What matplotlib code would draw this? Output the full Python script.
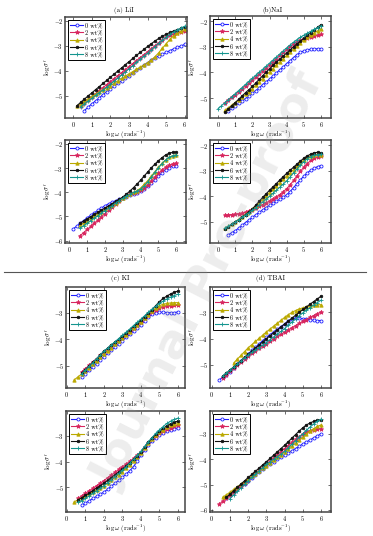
import matplotlib
matplotlib.use("Agg")
import matplotlib.pyplot as plt
from matplotlib.lines import Line2D

plt.rcParams.update({
    'font.family': 'serif',
    'font.serif': ['cmr10', 'DejaVu Serif'],
    'mathtext.fontset': 'cm',
    'axes.formatter.use_mathtext': True,
})

# ---------------- data ----------------
LOGW = [0.0, 0.2, 0.4, 0.6, 0.8, 1.0, 1.2, 1.4, 1.6, 1.8, 2.0, 2.2, 2.4, 2.6, 2.8, 3.0,
        3.2, 3.4, 3.6, 3.8, 4.0, 4.2, 4.4, 4.6, 4.8, 5.0, 5.2, 5.4, 5.6, 5.8, 6.0]
LABELS = ['0 wt%', '2 wt%', '4 wt%', '6 wt%', '8 wt%']

# (a) LiI - upper
LII_A = [
    [-5.60, -5.46, -5.33, -5.21, -5.09, -4.96, -4.84, -4.72, -4.62, -4.51, -4.41, -4.30, -4.20, -4.10,
     -3.99, -3.89, -3.78, -3.68, -3.58, -3.49, -3.41, -3.34, -3.27, -3.20, -3.13, -3.07, -3.01, -2.95],
    [-5.40, -5.28, -5.16, -5.04, -4.92, -4.80, -4.68, -4.56, -4.44, -4.32, -4.20, -4.08, -3.96, -3.84,
     -3.72, -3.60, -3.48, -3.36, -3.24, -3.12, -3.00, -2.88, -2.77, -2.67, -2.59, -2.53, -2.49, -2.46, -2.43],
    [-5.43, -5.33, -5.23, -5.13, -5.03, -4.94, -4.85, -4.76, -4.68, -4.60, -4.51, -4.41, -4.31, -4.22,
     -4.13, -4.04, -3.95, -3.86, -3.77, -3.68, -3.57, -3.44, -3.28, -3.10, -2.92, -2.75, -2.60, -2.49, -2.41, -2.35],
    [-5.40, -5.27, -5.14, -5.01, -4.89, -4.76, -4.64, -4.51, -4.39, -4.26, -4.14, -4.01, -3.89, -3.76,
     -3.64, -3.51, -3.39, -3.27, -3.15, -3.03, -2.92, -2.81, -2.71, -2.62, -2.54, -2.47, -2.41, -2.36, -2.31, -2.27],
    [-5.45, -5.33, -5.22, -5.11, -4.99, -4.88, -4.77, -4.66, -4.55, -4.42, -4.30, -4.17, -4.05, -3.92,
     -3.80, -3.67, -3.55, -3.42, -3.30, -3.17, -3.04, -2.91, -2.78, -2.66, -2.55, -2.45, -2.37, -2.29, -2.22],
]
# (a) LiI - lower
LII_B = [
    [-5.52, -5.41, -5.29, -5.17, -5.06, -4.95, -4.85, -4.75, -4.65, -4.56, -4.48, -4.41, -4.35, -4.30,
     -4.25, -4.19, -4.13, -4.07, -4.02, -3.96, -3.86, -3.75, -3.62, -3.48, -3.34, -3.20, -3.07, -2.98, -2.92, -2.90],
    [-5.80, -5.67, -5.54, -5.41, -5.28, -5.15, -5.01, -4.88, -4.75, -4.62, -4.49, -4.36, -4.23, -4.14,
     -4.08, -4.03, -3.98, -3.92, -3.82, -3.69, -3.54, -3.38, -3.22, -3.08, -2.97, -2.89, -2.83, -2.80],
    [-5.36, -5.27, -5.17, -5.08, -4.99, -4.90, -4.80, -4.71, -4.62, -4.52, -4.43, -4.34, -4.25, -4.17,
     -4.09, -4.01, -3.93, -3.83, -3.68, -3.52, -3.34, -3.15, -2.97, -2.81, -2.67, -2.56, -2.49, -2.45],
    [-5.28, -5.19, -5.10, -5.01, -4.92, -4.83, -4.74, -4.65, -4.56, -4.47, -4.38, -4.29, -4.20, -4.08,
     -3.95, -3.81, -3.66, -3.50, -3.33, -3.16, -2.99, -2.84, -2.70, -2.57, -2.46, -2.39, -2.35, -2.34],
    [-5.48, -5.38, -5.28, -5.17, -5.07, -4.97, -4.86, -4.76, -4.66, -4.56, -4.45, -4.35, -4.25, -4.16,
     -4.08, -4.01, -3.95, -3.87, -3.74, -3.57, -3.38, -3.18, -2.99, -2.82, -2.67, -2.56, -2.49, -2.46],
]
# (b) NaI - upper
NAI_A = [
    [-5.50, -5.40, -5.31, -5.21, -5.12, -5.02, -4.92, -4.82, -4.71, -4.60, -4.48, -4.37, -4.26, -4.14,
     -4.02, -3.90, -3.78, -3.66, -3.54, -3.42, -3.31, -3.22, -3.16, -3.12, -3.10, -3.09, -3.08, -3.07],
    [-5.20, -5.09, -4.98, -4.87, -4.76, -4.64, -4.53, -4.42, -4.30, -4.18, -4.06, -3.94, -3.82, -3.70,
     -3.58, -3.46, -3.34, -3.22, -3.10, -2.99, -2.89, -2.80, -2.73, -2.68, -2.64, -2.61, -2.58, -2.55, -2.52],
    [-5.48, -5.38, -5.28, -5.18, -5.08, -4.97, -4.86, -4.75, -4.64, -4.50, -4.37, -4.24, -4.11, -3.98,
     -3.85, -3.72, -3.59, -3.46, -3.34, -3.21, -3.08, -2.96, -2.84, -2.73, -2.63, -2.54, -2.46, -2.38, -2.31],
    [-5.55, -5.43, -5.30, -5.18, -5.05, -4.92, -4.79, -4.67, -4.55, -4.41, -4.27, -4.13, -3.99, -3.86,
     -3.73, -3.60, -3.48, -3.36, -3.24, -3.12, -3.00, -2.89, -2.78, -2.67, -2.56, -2.45, -2.35, -2.24, -2.14],
    [-5.42, -5.30, -5.18, -5.06, -4.95, -4.83, -4.71, -4.59, -4.47, -4.35, -4.23, -4.11, -3.99, -3.88,
     -3.76, -3.64, -3.52, -3.40, -3.28, -3.16, -3.04, -2.93, -2.82, -2.72, -2.63, -2.55, -2.47, -2.40,
     -2.32, -2.25, -2.18],
]
# (b) NaI - lower
NAI_B = [
    [-5.50, -5.42, -5.34, -5.24, -5.13, -5.02, -4.92, -4.82, -4.72, -4.62, -4.53, -4.44, -4.35, -4.27,
     -4.19, -4.11, -4.03, -3.94, -3.81, -3.66, -3.50, -3.35, -3.21, -3.08, -2.98, -2.90, -2.84, -2.80],
    [-4.73, -4.72, -4.71, -4.70, -4.68, -4.66, -4.62, -4.57, -4.52, -4.46, -4.39, -4.32, -4.25, -4.18,
     -4.10, -4.02, -3.93, -3.82, -3.70, -3.55, -3.38, -3.20, -3.02, -2.86, -2.72, -2.60, -2.51, -2.46, -2.43],
    [-5.25, -5.17, -5.08, -4.99, -4.90, -4.80, -4.70, -4.60, -4.50, -4.37, -4.24, -4.11, -3.98, -3.85,
     -3.72, -3.59, -3.46, -3.33, -3.20, -3.08, -2.96, -2.83, -2.70, -2.58, -2.48, -2.41, -2.37, -2.36, -2.37],
    [-5.26, -5.18, -5.09, -5.00, -4.91, -4.81, -4.71, -4.60, -4.49, -4.34, -4.19, -4.04, -3.90, -3.76,
     -3.63, -3.50, -3.36, -3.23, -3.10, -2.98, -2.86, -2.74, -2.62, -2.51, -2.42, -2.35, -2.30, -2.28, -2.31],
    [-5.24, -5.16, -5.08, -5.00, -4.91, -4.82, -4.73, -4.64, -4.55, -4.44, -4.33, -4.22, -4.11, -4.00,
     -3.88, -3.76, -3.64, -3.52, -3.39, -3.24, -3.08, -2.93, -2.78, -2.64, -2.53, -2.45, -2.40, -2.37, -2.36],
]
# (c) KI - upper
KI_A = [
    [-5.42, -5.30, -5.17, -5.04, -4.91, -4.78, -4.65, -4.53, -4.41, -4.29, -4.17, -4.05, -3.93, -3.81,
     -3.69, -3.57, -3.45, -3.31, -3.17, -3.06, -3.00, -2.98, -2.98, -2.99, -3.00, -2.99, -2.97],
    [-5.22, -5.10, -4.98, -4.85, -4.73, -4.60, -4.48, -4.37, -4.26, -4.15, -4.03, -3.92, -3.80, -3.68,
     -3.56, -3.45, -3.33, -3.21, -3.09, -2.98, -2.88, -2.81, -2.77, -2.74, -2.73, -2.72, -2.72],
    [-5.52, -5.41, -5.30, -5.20, -5.07, -4.94, -4.81, -4.68, -4.55, -4.43, -4.31, -4.19, -4.07, -3.95,
     -3.83, -3.71, -3.59, -3.47, -3.35, -3.21, -3.07, -2.94, -2.82, -2.73, -2.68, -2.65, -2.63, -2.62, -2.62],
    [-5.27, -5.14, -5.00, -4.86, -4.73, -4.59, -4.45, -4.33, -4.22, -4.10, -3.99, -3.87, -3.75, -3.63,
     -3.51, -3.39, -3.27, -3.14, -3.01, -2.88, -2.73, -2.58, -2.46, -2.37, -2.29, -2.23, -2.18],
    [-5.30, -5.16, -5.02, -4.88, -4.73, -4.59, -4.45, -4.33, -4.21, -4.09, -3.97, -3.85, -3.73, -3.61,
     -3.48, -3.36, -3.24, -3.11, -2.98, -2.86, -2.75, -2.65, -2.56, -2.48, -2.41, -2.35, -2.30],
]
# (c) KI - lower
KI_B = [
    [-5.72, -5.63, -5.54, -5.45, -5.37, -5.28, -5.20, -5.09, -4.97, -4.85, -4.74, -4.62, -4.49, -4.36,
     -4.20, -3.99, -3.76, -3.55, -3.36, -3.20, -3.07, -2.97, -2.89, -2.82, -2.76, -2.72, -2.68],
    [-5.45, -5.35, -5.25, -5.15, -5.05, -4.95, -4.85, -4.75, -4.64, -4.53, -4.42, -4.31, -4.20, -4.10,
     -3.99, -3.88, -3.76, -3.62, -3.45, -3.28, -3.13, -3.00, -2.90, -2.81, -2.73, -2.67, -2.62, -2.58],
    [-5.58, -5.50, -5.43, -5.35, -5.27, -5.19, -5.11, -5.03, -4.95, -4.84, -4.73, -4.62, -4.51, -4.40,
     -4.26, -4.12, -3.97, -3.81, -3.65, -3.46, -3.29, -3.13, -2.98, -2.86, -2.75, -2.65, -2.57, -2.52, -2.48],
    [-5.50, -5.42, -5.33, -5.24, -5.14, -5.04, -4.95, -4.85, -4.74, -4.63, -4.52, -4.41, -4.30, -4.17,
     -4.04, -3.91, -3.77, -3.62, -3.42, -3.24, -3.08, -2.94, -2.82, -2.70, -2.60, -2.52, -2.46, -2.42],
    [-5.60, -5.53, -5.45, -5.35, -5.25, -5.15, -5.05, -4.95, -4.83, -4.71, -4.59, -4.47, -4.35, -4.21,
     -4.06, -3.91, -3.76, -3.60, -3.41, -3.23, -3.06, -2.90, -2.76, -2.63, -2.51, -2.42, -2.35, -2.30],
]
# (d) TBAI - upper
TBAI_A = [
    [-5.57, -5.46, -5.36, -5.25, -5.12, -4.98, -4.85, -4.72, -4.58, -4.45, -4.33, -4.20, -4.08, -3.95,
     -3.85, -3.75, -3.65, -3.55, -3.45, -3.35, -3.26, -3.22, -3.23, -3.25, -3.27, -3.29, -3.31, -3.32, -3.32],
    [-5.48, -5.36, -5.24, -5.11, -4.99, -4.87, -4.76, -4.65, -4.55, -4.46, -4.37, -4.28, -4.19, -4.10,
     -4.01, -3.92, -3.84, -3.75, -3.67, -3.59, -3.51, -3.43, -3.35, -3.28, -3.20, -3.13, -3.06, -2.99],
    [-4.93, -4.78, -4.64, -4.49, -4.35, -4.23, -4.11, -3.99, -3.87, -3.75, -3.64, -3.53, -3.42, -3.31,
     -3.20, -3.10, -3.01, -2.94, -2.88, -2.84, -2.80, -2.77, -2.74, -2.72, -2.72],
    [-5.42, -5.31, -5.19, -5.07, -4.95, -4.83, -4.71, -4.60, -4.48, -4.36, -4.24, -4.12, -4.00, -3.89,
     -3.78, -3.67, -3.56, -3.45, -3.34, -3.23, -3.12, -3.01, -2.90, -2.80, -2.70, -2.60, -2.50, -2.40],
    [-5.42, -5.31, -5.20, -5.08, -4.96, -4.85, -4.73, -4.62, -4.52, -4.43, -4.34, -4.24, -4.15, -4.04,
     -3.94, -3.83, -3.73, -3.62, -3.50, -3.38, -3.26, -3.14, -3.03, -2.93, -2.83, -2.73, -2.64, -2.55],
]
# (d) TBAI - lower
TBAI_B = [
    [-5.52, -5.41, -5.30, -5.19, -5.07, -4.96, -4.85, -4.73, -4.61, -4.49, -4.37, -4.25, -4.17, -4.09,
     -4.01, -3.93, -3.85, -3.76, -3.67, -3.58, -3.49, -3.40, -3.32, -3.24, -3.16, -3.08, -3.00],
    [-5.78, -5.65, -5.52, -5.40, -5.28, -5.16, -5.04, -4.92, -4.80, -4.68, -4.56, -4.44, -4.32, -4.20,
     -4.08, -3.95, -3.83, -3.70, -3.58, -3.46, -3.34, -3.22, -3.11, -3.01, -2.93, -2.87, -2.83, -2.81, -2.80],
    [-5.50, -5.40, -5.30, -5.19, -5.09, -4.99, -4.88, -4.78, -4.67, -4.57, -4.46, -4.36, -4.25, -4.14,
     -4.04, -3.93, -3.83, -3.72, -3.60, -3.48, -3.36, -3.25, -3.14, -3.01, -2.89, -2.79, -2.71, -2.65],
    [-5.50, -5.38, -5.24, -5.11, -4.98, -4.85, -4.72, -4.60, -4.47, -4.35, -4.22, -4.10, -3.97, -3.84,
     -3.71, -3.58, -3.45, -3.31, -3.17, -3.03, -2.89, -2.76, -2.65, -2.57, -2.51, -2.47, -2.44],
    [-5.55, -5.41, -5.27, -5.13, -4.99, -4.85, -4.72, -4.59, -4.46, -4.33, -4.20, -4.10, -4.00, -3.90,
     -3.80, -3.69, -3.55, -3.41, -3.27, -3.13, -3.00, -2.86, -2.73, -2.61, -2.51, -2.42],
]

# ---------------- style ----------------
W, H = 373, 536
COLORS = ['#2020ff', '#d8265f', '#bba900', '#111111', '#14958f']
MARKERS = ['o', '*', '^', 'o', '+']
MFACE = ['white', None, None, None, None]
MSIZE = [2.2, 3.2, 2.4, 1.8, 3.0]

fig = plt.figure(figsize=(W / 100, H / 100), dpi=100)

# panel layout in pixels: (left, right, top, bottom), xlim, ylim, yticks
PANELS = [
    (LII_A, (65, 187, 17, 118), (-0.45, 6.12), (-5.9, -1.85), [-5, -4, -3, -2]),
    (LII_B, (65, 186, 140, 243), (-0.25, 6.55), (-6.1, -1.84), [-6, -5, -4, -3, -2]),
    (NAI_A, (210, 331, 16, 118), (-0.47, 6.58), (-5.78, -1.8), [-5, -4, -3, -2]),
    (NAI_B, (210, 331, 140, 243), (-0.47, 6.58), (-5.82, -1.8), [-5, -4, -3, -2]),
    (KI_A, (66, 185, 287, 388), (-0.05, 6.38), (-5.83, -2.03), [-5, -4, -3]),
    (KI_B, (66, 185, 411, 512), (-0.05, 6.38), (-5.98, -2.02), [-5, -4, -3]),
    (TBAI_A, (210, 331, 287, 388), (-0.1, 6.55), (-5.87, -2.05), [-5, -4, -3]),
    (TBAI_B, (210, 331, 411, 512), (-0.1, 6.55), (-6.08, -2.1), [-6, -5, -4, -3]),
]

axes = []
for series, (l, r, t, b), xl, yl, yt in PANELS:
    ax = fig.add_axes([l / W, 1 - b / H, (r - l) / W, (b - t) / H])
    for i, ys in enumerate(series):
        xs = LOGW[-len(ys):]
        ax.plot(xs, ys, color=COLORS[i], lw=0.8, marker=MARKERS[i],
                ms=MSIZE[i], mew=0.6,
                mfc=MFACE[i] if MFACE[i] else COLORS[i],
                label=LABELS[i])
    ax.set_xlim(*xl)
    ax.set_ylim(*yl)
    ax.set_xticks([0, 1, 2, 3, 4, 5, 6])
    ax.set_yticks(yt)
    ax.tick_params(direction='in', length=2, width=0.5, labelsize=4.5, pad=1.3,
                   top=True, right=True, colors='#333333', labelcolor='black')
    for s in ax.spines.values():
        s.set_linewidth(1.1)
        s.set_color('#444444')
    ax.set_ylabel(r"$\log\sigma'$", fontsize=5, va='center')
    ax.yaxis.set_label_coords(-17.0 / (r - l), 0.5)
    leg = ax.legend(loc='upper left', fontsize=4.5, frameon=True, fancybox=False,
                    edgecolor='black', framealpha=1, handlelength=2.0,
                    handletextpad=0.4, labelspacing=0.25, borderpad=0.35,
                    borderaxespad=0.5)
    leg.get_frame().set_linewidth(0.7)
    axes.append(ax)

# place x labels just below the tick labels
fig.canvas.draw()
renderer = fig.canvas.get_renderer()
for ax in axes:
    ymin = min(tl.get_window_extent(renderer).y0 for tl in ax.get_xticklabels())
    x_disp = ax.transAxes.transform((0.5, 0))[0]
    fig.text(x_disp / W, (ymin - 0.3) / H, r'$\log\omega$ (rads$^{-1}$)',
             fontsize=4.8, ha='center', va='top')

fig.text(124 / W, 1 - 10 / H, '(a) LiI', fontsize=5, ha='center', va='center')
fig.text(272 / W, 1 - 10 / H, '(b)NaI', fontsize=5, ha='center', va='center')
fig.text(120 / W, 1 - 279 / H, '(c) KI', fontsize=5, ha='center', va='center')
fig.text(270 / W, 1 - 279 / H, '(d) TBAI', fontsize=5, ha='center', va='center')

fig.add_artist(Line2D([4 / W, 366 / W], [1 - 272 / H, 1 - 272 / H],
                      transform=fig.transFigure, color='#555555', lw=0.8))

fig.text(209 / W, 1 - 281 / H, 'Journal Pre-proof', rotation=63, fontsize=34,
         family='DejaVu Sans', weight='bold', color='#9a9a9a', alpha=0.18,
         ha='center', va='center', zorder=20)

fig.savefig('out.png', dpi=100)
